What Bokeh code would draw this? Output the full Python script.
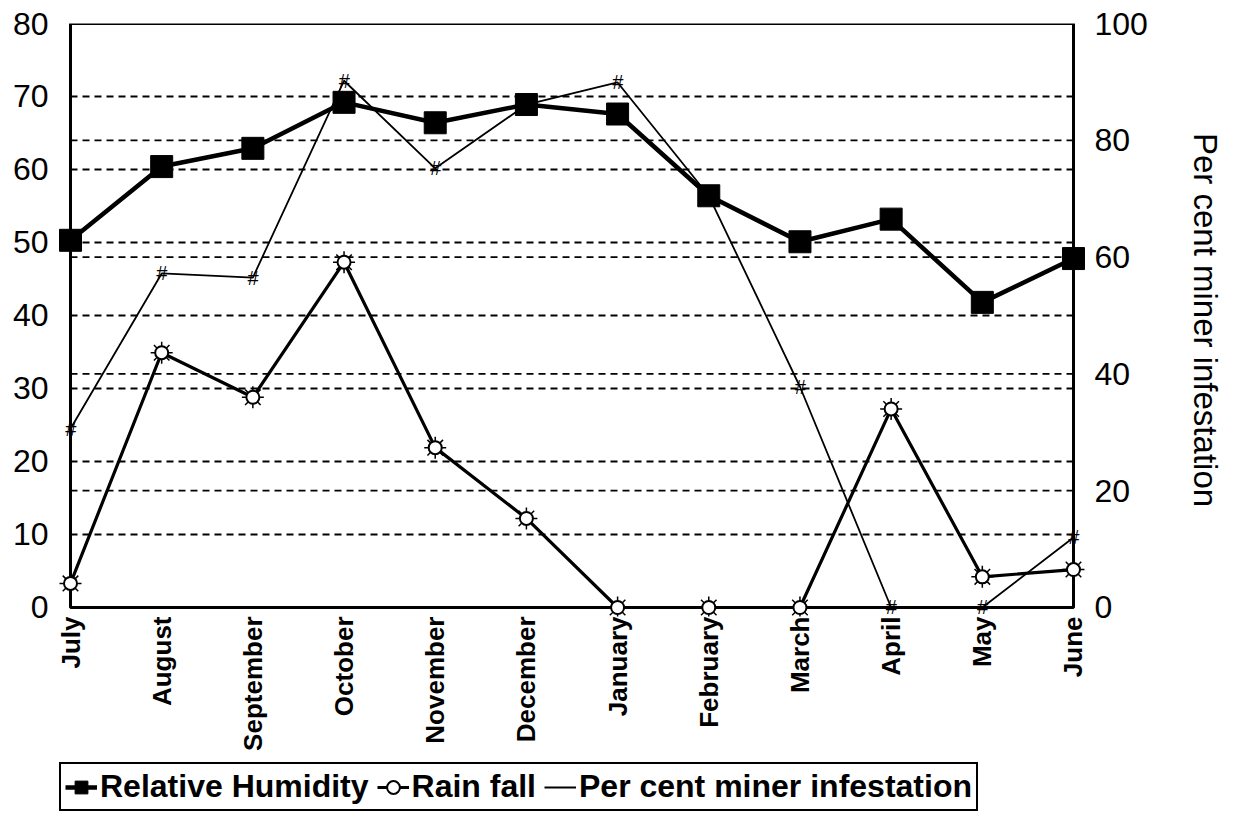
import math
from bokeh.plotting import figure
from bokeh.layouts import column
from bokeh.models import Range1d, LinearAxis, FixedTicker, Legend, LegendItem
from bokeh.core.properties import value
from bokeh.embed import file_html
from bokeh.resources import INLINE

months = ["July", "August", "September", "October", "November", "December",
          "January", "February", "March", "April", "May", "June"]
relative_humidity = [50.3, 60.4, 62.9, 69.2, 66.4, 68.9, 67.6, 56.4, 50.1, 53.2, 41.8, 47.8]
rain_fall = [3.3, 34.9, 28.8, 47.3, 21.9, 12.2, 0.0, 0.0, 0.0, 27.2, 4.2, 5.2]
miner_infestation = [30.6, 57.2, 56.5, 90.2, 75.2, 86.1, 89.9, 70.5, 37.8, 0.0, 0.0, 12.0]
left_ticks = [0, 10, 20, 30, 40, 50, 60, 70, 80]
right_ticks = [0, 20, 40, 60, 80, 100]
series_names = ["Relative Humidity", "Rain fall", "Per cent miner infestation"]

FONT = "Liberation Sans"
x = list(range(len(months)))

# small padding so that markers at the axes are not clipped by the frame
x_pad = 0.1426
y_pad = 1.233
r_scale = right_ticks[-1] / left_ticks[-1]

p = figure(frame_width=1029, frame_height=593,
           x_range=Range1d(x[0] - x_pad, x[-1] + x_pad),
           y_range=Range1d(left_ticks[0] - y_pad, left_ticks[-1]),
           output_backend="svg", toolbar_location=None,
           min_border_left=57, min_border_right=135, min_border_top=23, min_border_bottom=144)
p.extra_y_ranges = {"right": Range1d(right_ticks[0] - y_pad * r_scale, right_ticks[-1])}
p.background_fill_color = "white"
p.border_fill_color = "white"
p.outline_line_color = None
p.xgrid.visible = False
p.ygrid.visible = False

# dashed grid lines for both scales, between the two axes
gl = left_ticks[1:-1]
p.segment(x0=[x[0]] * len(gl), x1=[x[-1]] * len(gl), y0=gl, y1=gl,
          line_color="black", line_dash="7 5", line_width=1.8)
gr = right_ticks[1:-1]
p.segment(x0=[x[0]] * len(gr), x1=[x[-1]] * len(gr), y0=gr, y1=gr, y_range_name="right",
          line_color="black", line_dash="7 5", line_width=1.8)

# plot border (axis lines)
p.quad(left=[x[0]], right=[x[-1]], bottom=[left_ticks[0]], top=[left_ticks[-1]],
       fill_alpha=0, line_color="black", line_width=3)

# axes
right_axis = LinearAxis(y_range_name="right", ticker=FixedTicker(ticks=right_ticks),
                        axis_label="Per cent miner infestation")
p.add_layout(right_axis, "right")
p.yaxis[0].ticker = FixedTicker(ticks=left_ticks)
for ax in [p.yaxis[0], right_axis]:
    ax.major_label_text_font = FONT
    ax.major_label_text_font_size = "32px"
    ax.major_label_text_color = "black"
    ax.major_tick_out = 0
    ax.major_tick_in = 0
    ax.minor_tick_out = 0
    ax.minor_tick_in = 0
    ax.axis_line_color = None
p.yaxis[0].major_label_standoff = 9
right_axis.major_label_standoff = 8
right_axis.axis_label_text_font = FONT
right_axis.axis_label_text_font_size = "33px"
right_axis.axis_label_text_font_style = "normal"
right_axis.axis_label_text_color = "black"
right_axis.axis_label_standoff = 36

xa = p.xaxis[0]
xa.ticker = FixedTicker(ticks=x)
xa.major_label_overrides = {i: m for i, m in zip(x, months)}
xa.major_label_orientation = math.pi / 2
xa.major_label_text_font = FONT
xa.major_label_text_font_size = "26px"
xa.major_label_text_font_style = "bold"
xa.major_label_text_color = "black"
xa.major_tick_out = 0
xa.major_tick_in = 0
xa.minor_tick_out = 0
xa.minor_tick_in = 0
xa.axis_line_color = None
xa.major_label_standoff = 0

# series
r_inf_line = p.line(x, miner_infestation, y_range_name="right", line_color="black", line_width=1.8)
r_inf_txt = p.text(x, miner_infestation, text=value("#"), y_range_name="right",
                   text_font=value(FONT), text_font_size="20px", text_font_style="italic",
                   text_align="center", text_baseline="middle", text_color="black")
r_rain_line = p.line(x, rain_fall, line_color="black", line_width=3.2)
r_rain_ast = p.scatter(x, rain_fall, marker="asterisk", size=22, line_color="black", line_width=1.5)
r_rain_circ = p.scatter(x, rain_fall, marker="circle", size=13, fill_color="white",
                        line_color="black", line_width=2)
r_rh_line = p.line(x, relative_humidity, line_color="black", line_width=4.5)
r_rh_pts = p.scatter(x, relative_humidity, marker="square", size=22, fill_color="black", line_color="black")

# legend strip below the chart: a small figure whose view range lies outside the data,
# so only the legend (drawn with the same series styles) is visible
lg = figure(width=1221, height=52, x_range=Range1d(-3, -2), y_range=Range1d(-3, -2),
            output_backend="svg", toolbar_location=None, x_axis_location=None, y_axis_location=None,
            min_border_left=0, min_border_right=0, min_border_top=0, min_border_bottom=0)
lg.outline_line_color = None
lg.background_fill_color = "white"
lg.border_fill_color = "white"
lg.xgrid.visible = False
lg.ygrid.visible = False
l_rh_line = lg.line(x, relative_humidity, line_color="black", line_width=4.5)
l_rh_pts = lg.scatter(x, relative_humidity, marker="square", size=22, fill_color="black", line_color="black")
l_rain_line = lg.line(x, rain_fall, line_color="black", line_width=3.2)
l_rain_ast = lg.scatter(x, rain_fall, marker="asterisk", size=22, line_color="black", line_width=1.5)
l_rain_circ = lg.scatter(x, rain_fall, marker="circle", size=13, fill_color="white",
                         line_color="black", line_width=2)
l_inf_line = lg.line(x, miner_infestation, line_color="black", line_width=1.8)

legend = Legend(items=[
    LegendItem(label=series_names[0], renderers=[l_rh_line, l_rh_pts]),
    LegendItem(label=series_names[1], renderers=[l_rain_line, l_rain_ast, l_rain_circ]),
    LegendItem(label=series_names[2], renderers=[l_inf_line]),
], orientation="horizontal", location=(2, 1))
legend.label_text_font = FONT
legend.label_text_font_size = "32px"
legend.label_text_font_style = "bold"
legend.label_text_color = "black"
legend.glyph_width = 32
legend.glyph_height = 36
legend.label_standoff = 3
legend.spacing = 8
legend.padding = 4
legend.margin = 0
legend.border_line_color = "black"
legend.border_line_alpha = 1
legend.border_line_width = 2.5
legend.background_fill_color = "white"
legend.background_fill_alpha = 1
lg.add_layout(legend)

open("out.html", "w").write(file_html(column(p, lg, spacing=0), INLINE))
